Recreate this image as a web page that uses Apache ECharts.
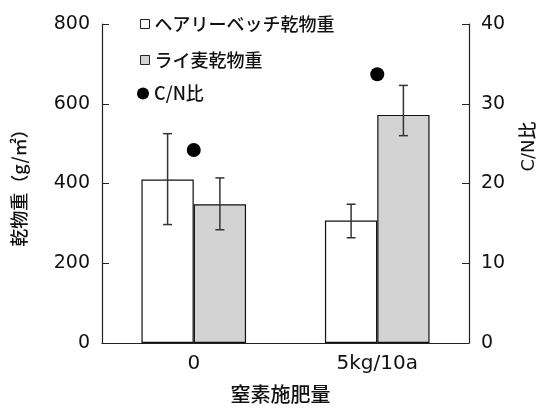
<!DOCTYPE html>
<html>
<head>
<meta charset="utf-8">
<script src="https://cdn.jsdelivr.net/npm/echarts@6/dist/echarts.min.js"></script>
<style>html,body{margin:0;padding:0;background:#fff;}#c{width:546px;height:409px;}</style>
</head>
<body>
<div id="c"></div>
<script>
const categories = ['0', '5kg/10a'];
const vetchDry = [410, 307];
const vetchErrLow = [297, 264];
const vetchErrHigh = [525, 348];
const ryeDry = [348, 572];
const ryeErrLow = [284, 520];
const ryeErrHigh = [414, 646];
const cnRatio = [24.2, 33.7];
const seriesNames = ['ヘアリーベッチ乾物重', 'ライ麦乾物重', 'C/N比'];
const leftAxis = { min: 0, max: 800, interval: 200 };
const rightAxis = { min: 0, max: 40, interval: 10 };

const FONT = "'DejaVu Sans', 'Noto Sans CJK JP', sans-serif";
const JFONT = "'Noto Sans CJK JP', sans-serif";
const CAT_GAP = 0.43;
const W = 500;

function errorRender(sign) {
  return function (params, api) {
    const x = api.value(0);
    const lo = api.coord([x, api.value(1)]);
    const hi = api.coord([x, api.value(2)]);
    const band = api.size([1, 0])[0];
    const cx = lo[0] + sign * band * (1 - CAT_GAP) / 4;
    const cap = 4.5;
    const st = { stroke: '#333', lineWidth: 1.5 };
    return {
      type: 'group',
      children: [
        { type: 'line', shape: { x1: cx, y1: hi[1], x2: cx, y2: lo[1] }, style: st },
        { type: 'line', shape: { x1: cx - cap, y1: hi[1], x2: cx + cap, y2: hi[1] }, style: st },
        { type: 'line', shape: { x1: cx - cap, y1: lo[1], x2: cx + cap, y2: lo[1] }, style: st }
      ]
    };
  };
}

const chart = echarts.init(document.getElementById('c'), null, { renderer: 'canvas' });
const legendText = { fontFamily: JFONT, fontSize: 18, color: '#111', fontWeight: W };
const legendItem = { borderWidth: 1, borderColor: '#222' };
chart.setOption({
  animation: false,
  backgroundColor: '#fff',
  grid: { left: 102, right: 75, top: 24, bottom: 62.5 },
  legend: [
    { data: [seriesNames[0]], left: 140, top: 15, orient: 'vertical', itemWidth: 9, itemHeight: 9, selectedMode: false, icon: 'rect', textStyle: legendText, padding: 0, itemStyle: legendItem },
    { data: [seriesNames[1]], left: 140, top: 51, orient: 'vertical', itemWidth: 9, itemHeight: 9, selectedMode: false, icon: 'rect', textStyle: legendText, padding: 0, itemStyle: legendItem },
    { data: [seriesNames[2]], left: 137, top: 84.5, orient: 'vertical', itemWidth: 12, itemHeight: 12, selectedMode: false, icon: 'circle', textStyle: legendText, padding: 0, itemStyle: { opacity: 1, color: '#000', borderWidth: 0 } }
  ],
  xAxis: {
    type: 'category',
    data: categories,
    name: '窒素施肥量',
    nameLocation: 'middle',
    nameGap: 41,
    nameTextStyle: { fontFamily: JFONT, fontSize: 20, color: '#111', fontWeight: W, padding: [0, 10, 0, 0] },
    axisLine: { lineStyle: { color: '#222', width: 1.2 } },
    axisTick: { show: false },
    axisLabel: { fontFamily: FONT, fontSize: 20, color: '#111', margin: 11 },
    splitLine: { show: false }
  },
  yAxis: [
    {
      type: 'value', min: leftAxis.min, max: leftAxis.max, interval: leftAxis.interval,
      name: '乾物重（g/㎡）', nameLocation: 'middle', nameGap: 74,
      nameTextStyle: { fontFamily: JFONT, fontSize: 18, color: '#111', fontWeight: W },
      axisLine: { show: true, lineStyle: { color: '#222', width: 1.2 } },
      axisTick: { show: true, inside: true, length: 7, lineStyle: { color: '#222' } },
      axisLabel: { fontFamily: FONT, fontSize: 19, color: '#111', margin: 12 },
      splitLine: { show: false }
    },
    {
      type: 'value', min: rightAxis.min, max: rightAxis.max, interval: rightAxis.interval,
      position: 'right',
      name: 'C/N比', nameLocation: 'middle', nameGap: 51, nameRotate: 90,
      nameTextStyle: { fontFamily: FONT, fontSize: 18, color: '#111', fontWeight: W, padding: [0, 0, 0, 74] },
      axisLine: { show: true, lineStyle: { color: '#222', width: 1.2 } },
      axisTick: { show: true, inside: true, length: 7, lineStyle: { color: '#222' } },
      axisLabel: { fontFamily: FONT, fontSize: 19, color: '#111', margin: 12 },
      splitLine: { show: false }
    }
  ],
  series: [
    {
      name: seriesNames[0], type: 'bar', data: vetchDry, yAxisIndex: 0,
      barGap: '0%', barCategoryGap: (CAT_GAP * 100) + '%',
      itemStyle: { color: '#ffffff', borderColor: '#111', borderWidth: 1.2 }
    },
    {
      name: seriesNames[1], type: 'bar', data: ryeDry, yAxisIndex: 0,
      barGap: '0%', barCategoryGap: (CAT_GAP * 100) + '%',
      itemStyle: { color: '#d3d3d3', borderColor: '#111', borderWidth: 1.2 }
    },
    {
      name: 'vetchErr', type: 'custom', yAxisIndex: 0, z: 5,
      renderItem: errorRender(-1),
      encode: { x: 0, y: [1, 2] },
      data: categories.map((c, i) => [i, vetchErrLow[i], vetchErrHigh[i]])
    },
    {
      name: 'ryeErr', type: 'custom', yAxisIndex: 0, z: 5,
      renderItem: errorRender(1),
      encode: { x: 0, y: [1, 2] },
      data: categories.map((c, i) => [i, ryeErrLow[i], ryeErrHigh[i]])
    },
    {
      name: seriesNames[2], type: 'scatter', yAxisIndex: 1, z: 6,
      data: cnRatio, symbol: 'circle', symbolSize: 14,
      itemStyle: { color: '#000', opacity: 1 }
    }
  ]
});
</script>
</body>
</html>
